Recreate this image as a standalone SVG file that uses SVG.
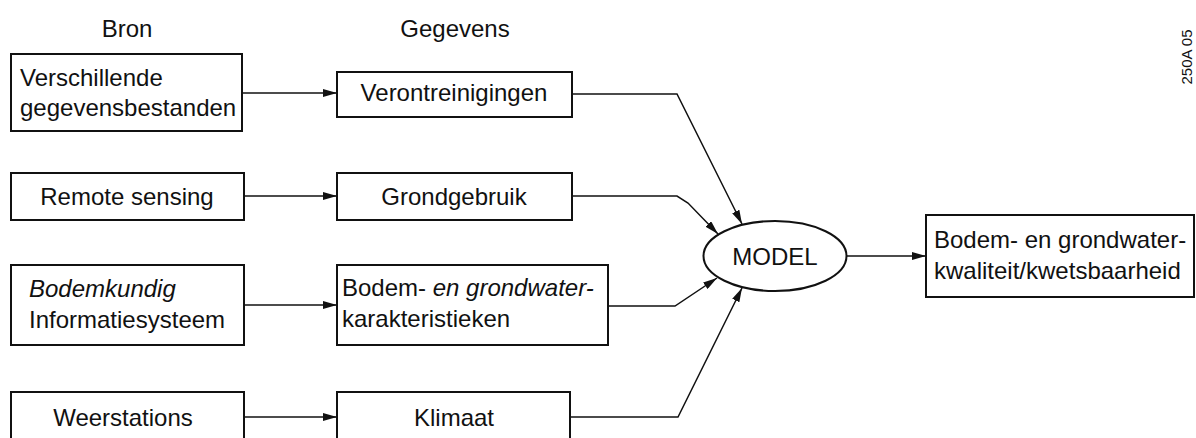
<svg xmlns="http://www.w3.org/2000/svg" width="1196" height="438" viewBox="0 0 1196 438">
<style>
  .box { fill: #fff; stroke: #111; stroke-width: 2; }
  .t { font-family: "Liberation Sans", Arial, sans-serif; font-size: 24px; fill: #111; }
  .c { text-anchor: middle; }
  .it { font-style: italic; }
  .ln { fill: none; stroke: #111; stroke-width: 1.5; }
</style>
<defs>
  <marker id="arr" viewBox="0 0 14 8" refX="14" refY="4" markerWidth="14" markerHeight="8" markerUnits="userSpaceOnUse" orient="auto">
    <path d="M0,0 L14,4 L0,8 Z" fill="#111"/>
  </marker>
</defs>
<rect width="1196" height="438" fill="#fff"/>

<g id="headers">
  <text class="t c" x="127" y="37">Bron</text>
  <text class="t c" x="455" y="37">Gegevens</text>
</g>
<g id="figcode">
  <text class="t c" x="1192" y="57" font-size="15" transform="rotate(-90 1192 57)" style="font-size:15px">250A 05</text>
</g>

<g id="connectors">
  <line class="ln" x1="242" y1="93" x2="337" y2="93" marker-end="url(#arr)"/>
  <line class="ln" x1="244" y1="196" x2="337" y2="196" marker-end="url(#arr)"/>
  <line class="ln" x1="244" y1="305" x2="337" y2="305" marker-end="url(#arr)"/>
  <line class="ln" x1="244" y1="417" x2="337" y2="417" marker-end="url(#arr)"/>
  <polyline class="ln" points="572,94 677,94 742,224" marker-end="url(#arr)"/>
  <polyline class="ln" points="572,196 677,196 688,203 718,234" marker-end="url(#arr)"/>
  <polyline class="ln" points="608,306 675,306 717,278" marker-end="url(#arr)"/>
  <polyline class="ln" points="570,417 678,417 742,288" marker-end="url(#arr)"/>
  <line class="ln" x1="847" y1="256" x2="926" y2="256" marker-end="url(#arr)"/>
</g>

<g id="n-verschillende">
  <rect class="box" x="11" y="54" width="231" height="77"/>
  <text class="t" x="20" y="86">Verschillende</text>
  <text class="t" x="20" y="116">gegevensbestanden</text>
</g>
<g id="n-remote">
  <rect class="box" x="11" y="173" width="233" height="47"/>
  <text class="t c" x="127" y="205">Remote sensing</text>
</g>
<g id="n-bodemkundig">
  <rect class="box" x="11" y="265" width="233" height="80"/>
  <text class="t it" x="29" y="297">Bodemkundig</text>
  <text class="t" x="29" y="328">Informatiesysteem</text>
</g>
<g id="n-weerstations">
  <rect class="box" x="11" y="392" width="233" height="55"/>
  <text class="t c" x="123" y="426">Weerstations</text>
</g>

<g id="n-verontreinigingen">
  <rect class="box" x="337" y="72" width="235" height="45"/>
  <text class="t c" x="454" y="101">Verontreinigingen</text>
</g>
<g id="n-grondgebruik">
  <rect class="box" x="337" y="173" width="235" height="47"/>
  <text class="t c" x="454" y="205">Grondgebruik</text>
</g>
<g id="n-karakteristieken">
  <rect class="box" x="337" y="265" width="271" height="80"/>
  <text class="t" x="342" y="296">Bodem- <tspan class="it">en grondwater-</tspan></text>
  <text class="t" x="342" y="327">karakteristieken</text>
</g>
<g id="n-klimaat">
  <rect class="box" x="337" y="392" width="233" height="55"/>
  <text class="t c" x="454" y="426">Klimaat</text>
</g>

<g id="n-model">
  <ellipse class="box" cx="775" cy="256" rx="71.5" ry="35"/>
  <text class="t c" x="775" y="265">MODEL</text>
</g>

<g id="n-kwaliteit">
  <rect class="box" x="926" y="215" width="268" height="82"/>
  <text class="t" x="934" y="248">Bodem- en grondwater-</text>
  <text class="t" x="934" y="279">kwaliteit/kwetsbaarheid</text>
</g>
</svg>
